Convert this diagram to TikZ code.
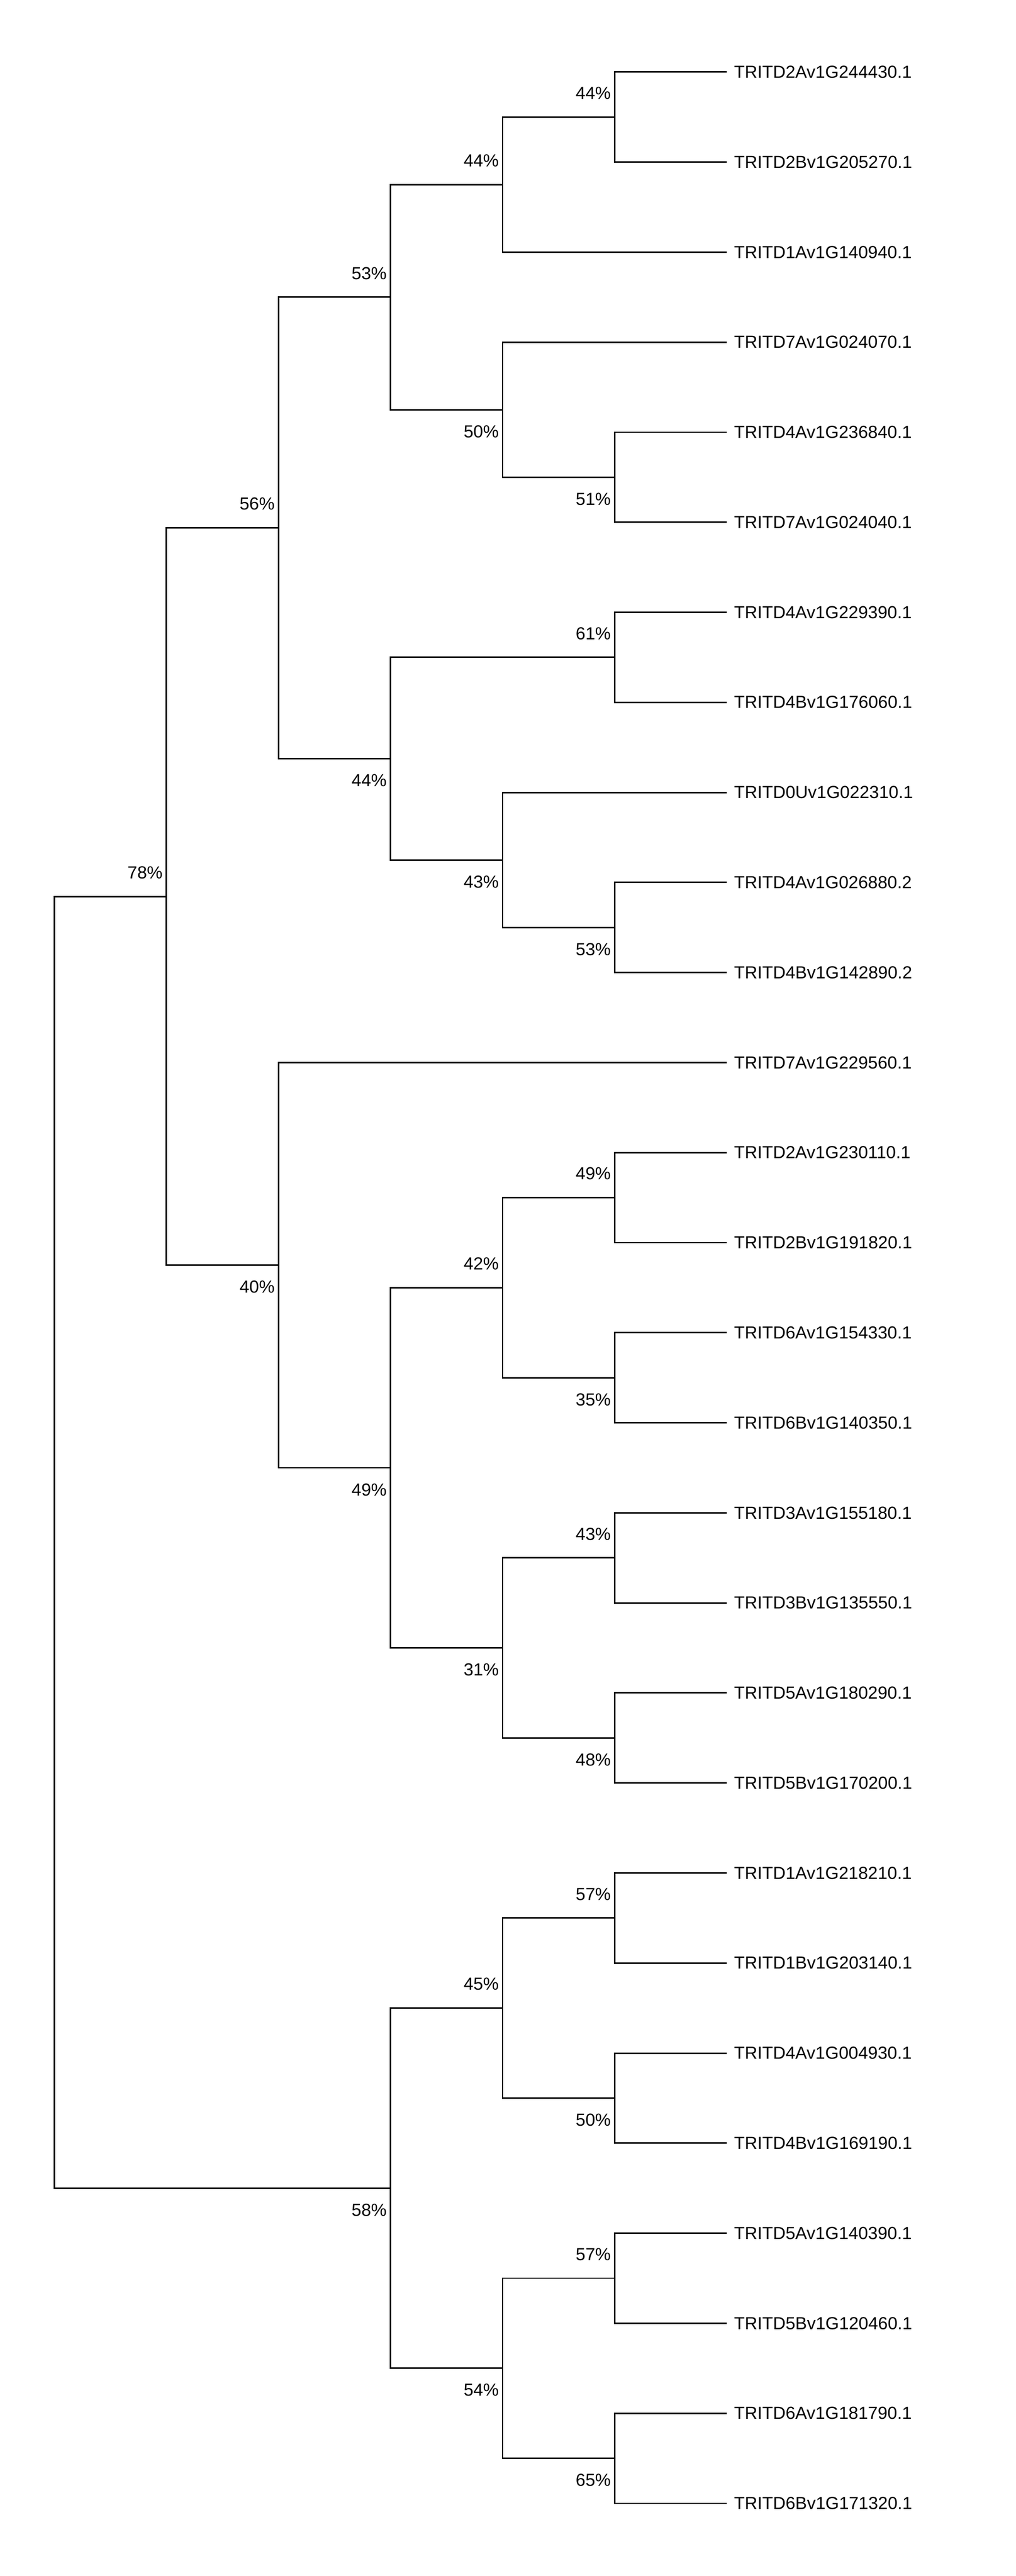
\documentclass[tikz,border=0pt]{standalone}
\usepackage{fontspec}
\setmainfont{Liberation Sans}
\usetikzlibrary{positioning}

\tikzset{
  branch/.style={line width=1.3pt},
  leaf/.style={anchor=west,inner xsep=0.22cm,inner ysep=0pt},
  pct/.style={anchor=east,inner sep=0.11cm}
}

\begin{document}
\begin{tikzpicture}[x=3.42cm,y=-2.75cm,font=\fontsize{15.2}{18}\selectfont]
\useasboundingbox (-1.66cm,2.2cm) rectangle (29.34cm,-76.47cm);

% taxa
\foreach \t [count=\n from 0] in
  {TRITD2Av1G244430.1,TRITD2Bv1G205270.1,TRITD1Av1G140940.1,TRITD7Av1G024070.1,
   TRITD4Av1G236840.1,TRITD7Av1G024040.1,TRITD4Av1G229390.1,TRITD4Bv1G176060.1,
   TRITD0Uv1G022310.1,TRITD4Av1G026880.2,TRITD4Bv1G142890.2,TRITD7Av1G229560.1,
   TRITD2Av1G230110.1,TRITD2Bv1G191820.1,TRITD6Av1G154330.1,TRITD6Bv1G140350.1,
   TRITD3Av1G155180.1,TRITD3Bv1G135550.1,TRITD5Av1G180290.1,TRITD5Bv1G170200.1,
   TRITD1Av1G218210.1,TRITD1Bv1G203140.1,TRITD4Av1G004930.1,TRITD4Bv1G169190.1,
   TRITD5Av1G140390.1,TRITD5Bv1G120460.1,TRITD6Av1G181790.1,TRITD6Bv1G171320.1}
  \node[leaf] (T\n) at (6,\n) {\t};

% inner nodes with bootstrap values
\foreach \c/\x/\y/\v/\dy in
  {cA/5/0.5/44/0.73, cB/4/1.25/44/0.73, cC/5/4.5/51/-0.67, cD/4/3.75/50/-0.67,
   cE/3/2.5/53/0.73, cF/5/6.5/61/0.73, cG/5/9.5/53/-0.67, cH/4/8.75/43/-0.67,
   cI/3/7.625/44/-0.67, cJ/2/5.0625/56/0.73, cK/5/12.5/49/0.73, cL/5/14.5/35/-0.67,
   cM/4/13.5/42/0.73, cN/5/16.5/43/0.73, cO/5/18.5/48/-0.67, cP/4/17.5/31/-0.67,
   cQ/3/15.5/49/-0.67, cR/2/13.25/40/-0.67, cS/1/9.15625/78/0.73, cT/5/20.5/57/0.73,
   cU/5/22.5/50/-0.67, cV/4/21.5/45/0.73, cW/5/24.5/57/0.73, cX/5/26.5/65/-0.67,
   cY/4/25.5/54/-0.67, cZ/3/23.5/58/-0.67}
  {
  \coordinate (\c) at (\x,\y);
  \node[pct,yshift=\dy cm] (P\c) at (\c) {\v\%};
  }
\coordinate (root) at (0,16.328125);

% branches
\foreach \p/\k in
  {cA/T0,cA/T1,cB/cA,cB/T2,cC/T4,cC/T5,cD/T3,cD/cC,cE/cB,cE/cD,
   cF/T6,cF/T7,cG/T9,cG/T10,cH/T8,cH/cG,cI/cF,cI/cH,cJ/cE,cJ/cI,
   cK/T12,cK/T13,cL/T14,cL/T15,cM/cK,cM/cL,cN/T16,cN/T17,cO/T18,cO/T19,
   cP/cN,cP/cO,cQ/cM,cQ/cP,cR/T11,cR/cQ,cS/cJ,cS/cR,
   cT/T20,cT/T21,cU/T22,cU/T23,cV/cT,cV/cU,cW/T24,cW/T25,cX/T26,cX/T27,
   cY/cW,cY/cX,cZ/cV,cZ/cY,root/cS,root/cZ}
  \draw[branch] (\p) |- (\k);
\end{tikzpicture}
\end{document}
